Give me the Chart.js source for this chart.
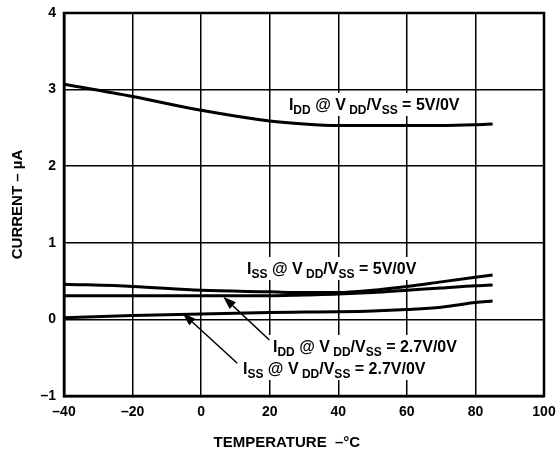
<!DOCTYPE html>
<html><head><meta charset="utf-8">
<script src="https://cdn.jsdelivr.net/npm/chart.js@4.4.1/dist/chart.umd.min.js"></script>
<style>html,body{margin:0;padding:0;background:#fff}</style>
</head><body>
<canvas id="c" width="560" height="455"></canvas>
<script>
// ---- data ----
const temperature = [-40, -20, 0, 20, 30, 40, 50, 60, 70, 80, 85];
const iddAt5V   = [3.07, 2.91, 2.73, 2.59, 2.55, 2.53, 2.53, 2.53, 2.53, 2.54, 2.55];
const issAt5V   = [0.46, 0.43, 0.38, 0.36, 0.35, 0.35, 0.38, 0.43, 0.49, 0.55, 0.58];
const iddAt2V7  = [0.31, 0.31, 0.31, 0.31, 0.32, 0.33, 0.35, 0.38, 0.41, 0.44, 0.45];
const issAt2V7  = [0.02, 0.05, 0.07, 0.09, 0.095, 0.10, 0.11, 0.13, 0.16, 0.22, 0.24];
const xTicks = [-40, -20, 0, 20, 40, 60, 80, 100];
const yTicks = [-1, 0, 1, 2, 3, 4];
const xTitle = 'TEMPERATURE  –°C';
const yTitle = 'CURRENT – µA';

// annotation labels: [parts], anchor in data units (left, baseline)
const labels = [
  {at: [25.6, 2.734], parts: [['I',0],['DD',1],[' @ V',0],[' DD',1],['/V',0],['SS',1],[' = 5V/0V',0]]},
  {at: [13.4, 0.593], parts: [['I',0],['SS',1],[' @ V',0],[' DD',1],['/V',0],['SS',1],[' = 5V/0V',0]]},
  {at: [20.96, -0.425], parts: [['I',0],['DD',1],[' @ V',0],[' DD',1],['/V',0],['SS',1],[' = 2.7V/0V',0]]},
  {at: [12.2, -0.713], parts: [['I',0],['SS',1],[' @ V',0],[' DD',1],['/V',0],['SS',1],[' = 2.7V/0V',0]]}
];
// arrows: tail -> tip in data units
const arrows = [
  {from: [19.9, -0.269], to: [6.46, 0.296]},
  {from: [10.55, -0.573], to: [-5.38, 0.080]}
];

const FAM = '"Liberation Sans", Arial, Helvetica, sans-serif';
const MAIN = 'bold 16px ' + FAM;
const SUB = 'bold 12px ' + FAM;
const dash = v => String(v).replace('-', '–');

function series(vals) { return temperature.map((t, i) => ({x: t, y: vals[i]})); }

const annot = {
  id: 'annot',
  beforeDatasetsDraw(chart) {
    const ctx = chart.ctx, xs = chart.scales.x, ys = chart.scales.y;
    ctx.save();
    labels.forEach(l => {
      const x = xs.getPixelForValue(l.at[0]), y = ys.getPixelForValue(l.at[1]);
      let w = 0;
      l.parts.forEach(p => { ctx.font = p[1] ? SUB : MAIN; w += ctx.measureText(p[0]).width; });
      ctx.fillStyle = '#fff';
      ctx.fillRect(x - 4, y - 17, w + 8, 23);
      ctx.fillStyle = '#000';
      ctx.textBaseline = 'alphabetic';
      ctx.textAlign = 'left';
      let cx = x;
      l.parts.forEach(p => {
        ctx.font = p[1] ? SUB : MAIN;
        ctx.fillText(p[0], cx, y + (p[1] ? 4 : 0));
        cx += ctx.measureText(p[0]).width;
      });
    });
    arrows.forEach(a => {
      const x1 = xs.getPixelForValue(a.from[0]), y1 = ys.getPixelForValue(a.from[1]);
      const x2 = xs.getPixelForValue(a.to[0]), y2 = ys.getPixelForValue(a.to[1]);
      const ang = Math.atan2(y2 - y1, x2 - x1);
      const L = 13, W = 4.5;
      const bx = x2 - L * Math.cos(ang), by = y2 - L * Math.sin(ang);
      ctx.strokeStyle = '#000'; ctx.lineWidth = 1.5;
      ctx.beginPath(); ctx.moveTo(x1, y1); ctx.lineTo(bx, by); ctx.stroke();
      ctx.fillStyle = '#000';
      ctx.beginPath();
      ctx.moveTo(x2, y2);
      ctx.lineTo(bx + W * Math.sin(ang), by - W * Math.cos(ang));
      ctx.lineTo(bx - W * Math.sin(ang), by + W * Math.cos(ang));
      ctx.closePath(); ctx.fill();
    });
    ctx.restore();
  },
  afterDraw(chart) {
    const ctx = chart.ctx, a = chart.chartArea, xs = chart.scales.x;
    ctx.save();
    ctx.strokeStyle = '#000'; ctx.lineWidth = 2.5;
    ctx.strokeRect(a.left, a.top, a.right - a.left, a.bottom - a.top);
    ctx.fillStyle = '#000';
    ctx.font = 'bold 15px ' + FAM;
    ctx.textAlign = 'center'; ctx.textBaseline = 'middle';
    ctx.fillText(xTitle, xs.getPixelForValue(25), 443);
    ctx.restore();
  }
};

const tickFont = {family: FAM, size: 14, weight: 'bold'};
const titleFont = {family: FAM, size: 15, weight: 'bold'};
new Chart(document.getElementById('c'), {
  type: 'line',
  data: {
    datasets: [
      {label: 'IDD @ VDD/VSS = 5V/0V', data: series(iddAt5V)},
      {label: 'ISS @ VDD/VSS = 5V/0V', data: series(issAt5V)},
      {label: 'IDD @ VDD/VSS = 2.7V/0V', data: series(iddAt2V7)},
      {label: 'ISS @ VDD/VSS = 2.7V/0V', data: series(issAt2V7)}
    ]
  },
  options: {
    responsive: false,
    animation: false,
    devicePixelRatio: 1,
    layout: {padding: {left: 0, right: 16, top: 13, bottom: 0}},
    plugins: {legend: {display: false}, tooltip: {enabled: false}},
    elements: {
      point: {radius: 0},
      line: {borderWidth: 3, borderColor: '#000', fill: false, cubicInterpolationMode: 'monotone'}
    },
    scales: {
      x: {
        type: 'linear', min: -40, max: 100,
        afterBuildTicks: s => { s.ticks = xTicks.map(v => ({value: v})); },
        ticks: {color: '#000', font: tickFont, padding: 8, maxRotation: 0, autoSkip: false, callback: v => dash(v)},
        grid: {color: '#000', lineWidth: 1.5, drawTicks: false},
        border: {color: '#000', width: 2.5},
        afterFit: s => { s.height = 59; s.paddingLeft = 0; s.paddingRight = 12; }
      },
      y: {
        type: 'linear', min: -1, max: 4,
        afterBuildTicks: s => { s.ticks = yTicks.map(v => ({value: v})); },
        ticks: {color: '#000', font: tickFont, padding: 8, autoSkip: false, callback: v => dash(v)},
        grid: {color: '#000', lineWidth: 1.5, drawTicks: false},
        border: {color: '#000', width: 2.5},
        title: {display: true, text: yTitle, color: '#000', font: titleFont, padding: {top: 9, bottom: 0}},
        afterFit: s => { s.width = 64; s.paddingTop = 0; s.paddingBottom = 0; }
      }
    }
  },
  plugins: [annot]
});
</script>
</body></html>
